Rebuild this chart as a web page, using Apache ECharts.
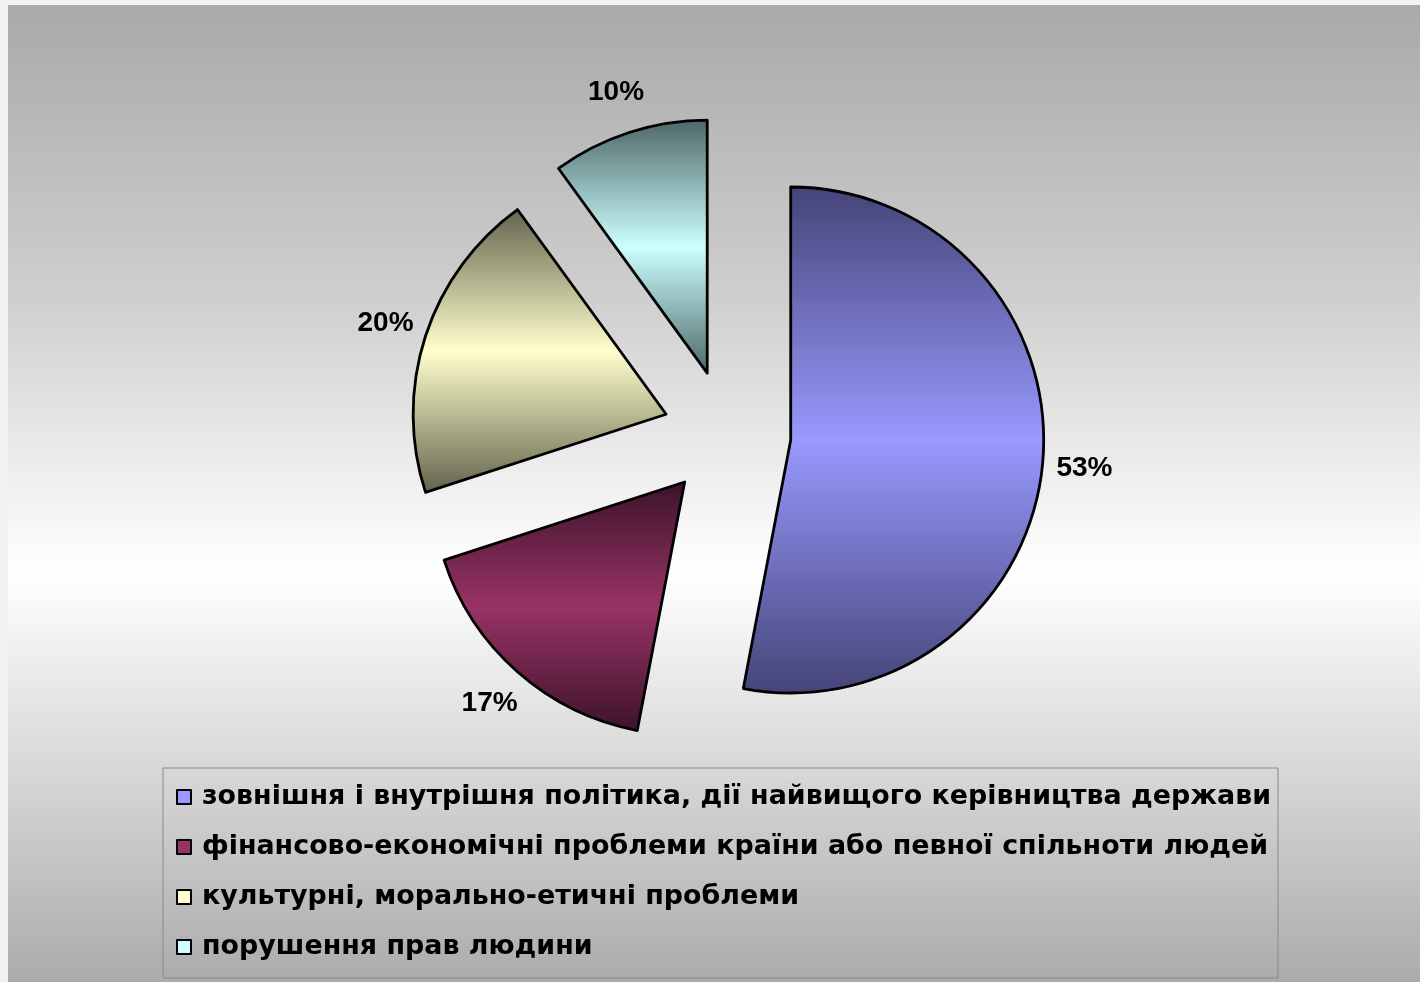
<!DOCTYPE html>
<html>
<head>
<meta charset="utf-8">
<script src="https://cdn.jsdelivr.net/npm/echarts@6/dist/echarts.min.js"></script>
<style>
  html, body { margin: 0; padding: 0; background: #f2f2f2; }
  #chart { width: 1420px; height: 982px; }
</style>
</head>
<body>
<div id="chart"></div>
<script>
// Reasons named by respondents (share, %)
const categories = [
  'зовнішня і внутрішня політика, дії найвищого керівництва держави',
  'фінансово-економічні проблеми країни або певної спільноти людей',
  'культурні, морально-етичні проблеми',
  'порушення прав людини'
];
const values = [53, 17, 20, 10];

// Slice palette: light middle tone and dark edge tone of each gradient
const lightColors = ['#9999ff', '#993366', '#ffffcc', '#ccffff'];
const darkColors  = ['#444477', '#3b1329', '#62624c', '#4d6666'];

// Pie layout
const CX = 727, CY = 434, R = 253;
const EXPLODE = 64;       // distance each slice is pulled out from the centre
const LABEL_RADIUS = 356; // label ring radius, measured from the pie centre

function vGradient(i) {
  return {
    type: 'linear', x: 0, y: 0, x2: 0, y2: 1,
    colorStops: [
      { offset: 0, color: darkColors[i] },
      { offset: 0.5, color: lightColors[i] },
      { offset: 1, color: darkColors[i] }
    ]
  };
}

const chart = echarts.init(document.getElementById('chart'), null, { renderer: 'canvas' });

const option = {
  animation: false,
  graphic: [{
    type: 'rect',
    silent: true,
    z: -10,
    shape: { x: 8, y: 5, width: 1412, height: 977 },
    style: {
      fill: {
        type: 'linear', x: 0, y: 0, x2: 0, y2: 1, global: false,
        colorStops: [
          { offset: 0, color: '#a9a9a9' },
          { offset: 0.3, color: '#cfcfcf' },
          { offset: 0.58, color: '#ffffff' },
          { offset: 0.8, color: '#d4d4d4' },
          { offset: 1, color: '#ababab' }
        ]
      }
    }
  }],
  legend: {
    orient: 'vertical',
    left: 163,
    top: 768,
    padding: [14, 7, 16, 13],
    itemGap: 20,
    itemWidth: 14,
    itemHeight: 14,
    icon: 'rect',
    borderColor: '#8a8a8a',
    borderWidth: 1,
    backgroundColor: 'transparent',
    selectedMode: false,
    textStyle: {
      fontFamily: 'DejaVu Sans, sans-serif',
      fontWeight: 'bold',
      fontSize: 26.9,
      lineHeight: 30,
      padding: [0, 0, 0, 6],
      color: '#000'
    },
    data: categories.map((name, i) => ({
      name,
      itemStyle: { color: lightColors[i], borderColor: '#000', borderWidth: 2 }
    }))
  },
  series: [{
    // exploded slices
    type: 'pie',
    center: [CX, CY],
    radius: R,
    startAngle: 90,
    clockwise: true,
    selectedMode: 'multiple',
    selectedOffset: EXPLODE,
    emphasis: { disabled: true },
    label: { show: false },
    labelLine: { show: false },
    data: categories.map((name, i) => ({
      name,
      value: values[i],
      selected: true,
      itemStyle: {
        color: vGradient(i),
        borderColor: '#000',
        borderWidth: 2.8
      }
    }))
  }, {
    // thin invisible ring that carries the percentage labels
    type: 'pie',
    center: [CX, CY],
    radius: [LABEL_RADIUS - 1, LABEL_RADIUS + 1],
    startAngle: 90,
    clockwise: true,
    silent: true,
    emphasis: { disabled: true },
    itemStyle: { color: 'rgba(0,0,0,0)', borderWidth: 0 },
    label: {
      show: true,
      position: 'inside',
      rotate: 0,
      formatter: '{c}%',
      fontFamily: 'Liberation Sans, Arial, sans-serif',
      fontWeight: 'bold',
      fontSize: 28,
      color: '#000'
    },
    labelLine: { show: false },
    data: categories.map((name, i) => ({ name, value: values[i] }))
  }]
};

chart.setOption(option);
</script>
</body>
</html>
